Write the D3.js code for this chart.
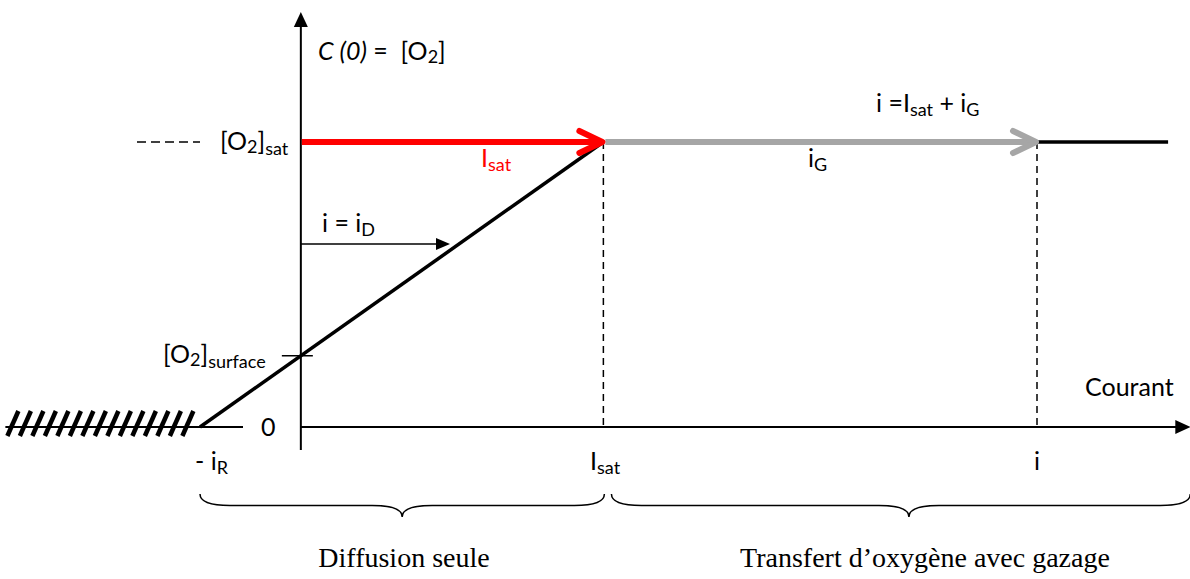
<!DOCTYPE html>
<html lang="fr">
  <head>
    <meta charset="UTF-8" />
    <title>C(0) en fonction du courant</title>
    <style>
      body { margin: 0; background: #fff; }
      svg text { font-family: Lato, "Open Sans", sans-serif; font-size: 25px; fill: #000; white-space: pre; }
      svg text.serif { font-family: "Liberation Serif", "DejaVu Serif", serif; font-size: 28px; }
    </style>
  </head>
  <body>
    <div id="chart"></div>
    <script src="https://cdn.jsdelivr.net/npm/d3@7"></script>
    <script>
      // courant : -iR, 0, Isat, i
      const currentKeys = [-1, 0, 3, 7.3];
      // concentration : 0, [O2]surface, [O2]sat
      const concKeys = [0, 0.25, 1];
      // profil C(0) = f(courant)
      const profileRise = [[-1, 0], [3, 1]];
      const profileFlat = [[7.3, 1], [8.6, 1]];
      const hatchRange = [-2.93, -1];
      const xEnd = 8.82;
      const yTop = 1.456;
      const braces = [
        { from: -1, to: 3.01, label: "Diffusion seule" },
        { from: 3.08, to: 8.82, tip: 6.03, label: "Transfert d\u2019oxygène avec gazage" }
      ];

      const width = 1190, height = 579;
      const x = d3.scaleLinear().domain([-1, 7.3]).range([200, 1037]);
      const y = d3.scaleLinear().domain([0, 1]).range([427, 142]);
      const line = d3.line().x(d => x(d[0])).y(d => y(d[1]));

      const svg = d3.select("#chart").append("svg")
        .attr("width", width).attr("height", height);

      // texte avec indices
      function label(xp, yp, parts, opts = {}) {
        const t = svg.append("text").attr("x", xp).attr("y", yp)
          .attr("text-anchor", opts.anchor || "start");
        if (opts.fill) t.style("fill", opts.fill);
        parts.forEach(p => {
          const s = t.append("tspan").text(p.t);
          if (p.sub) s.attr("dy", p.dy != null ? p.dy : 5).style("font-size", (p.size || 18) + "px");
          else if (p.up) s.attr("dy", -p.up);
          if (p.italic) s.style("font-style", "italic");
        });
        return t;
      }

      // hachures à gauche de -iR
      const hatch = svg.append("g");
      hatch.append("line")
        .attr("x1", x(hatchRange[0])).attr("x2", x(hatchRange[1]))
        .attr("y1", y(0)).attr("y2", y(0))
        .attr("stroke", "#000").attr("stroke-width", 2);
      d3.range(x(hatchRange[0]) + 2, x(hatchRange[1]) - 8, 12.5).forEach(hx => {
        hatch.append("line")
          .attr("x1", hx).attr("y1", y(0) + 9)
          .attr("x2", hx + 11).attr("y2", y(0) - 16)
          .attr("stroke", "#000").attr("stroke-width", 4.5);
      });

      // axe des abscisses (courant)
      svg.append("line")
        .attr("x1", x(-1)).attr("x2", x(-1) + 43)
        .attr("y1", y(0)).attr("y2", y(0))
        .attr("stroke", "#000").attr("stroke-width", 2);
      svg.append("line")
        .attr("x1", x(0)).attr("x2", x(xEnd) - 12)
        .attr("y1", y(0)).attr("y2", y(0))
        .attr("stroke", "#000").attr("stroke-width", 2);
      svg.append("path")
        .attr("d", `M${x(xEnd)},${y(0)} L${x(xEnd) - 15},${y(0) - 7} L${x(xEnd) - 15},${y(0) + 7} Z`)
        .attr("fill", "#000");

      // axe des ordonnées
      svg.append("line")
        .attr("x1", x(0)).attr("x2", x(0))
        .attr("y1", y(0) + 23).attr("y2", y(yTop) + 12)
        .attr("stroke", "#000").attr("stroke-width", 2);
      svg.append("path")
        .attr("d", `M${x(0)},${y(yTop)} L${x(0) - 7},${y(yTop) + 15} L${x(0) + 7},${y(yTop) + 15} Z`)
        .attr("fill", "#000");

      // pointillés verticaux à Isat et i
      [currentKeys[2], currentKeys[3]].forEach(c => {
        svg.append("line")
          .attr("x1", x(c)).attr("x2", x(c))
          .attr("y1", y(1)).attr("y2", y(0))
          .attr("stroke", "#000").attr("stroke-width", 1.5)
          .attr("stroke-dasharray", "7,5");
      });
      // pointillé horizontal devant [O2]sat
      svg.append("line")
        .attr("x1", 137).attr("x2", 200)
        .attr("y1", y(1)).attr("y2", y(1))
        .attr("stroke", "#000").attr("stroke-width", 1.5)
        .attr("stroke-dasharray", "9,5");

      // repère [O2]surface
      svg.append("line")
        .attr("x1", x(0) - 19).attr("x2", x(0) + 12)
        .attr("y1", y(concKeys[1])).attr("y2", y(concKeys[1]))
        .attr("stroke", "#000").attr("stroke-width", 1.5);

      // profil
      svg.append("path").datum(profileRise).attr("d", line)
        .attr("fill", "none").attr("stroke", "#000").attr("stroke-width", 3.5);
      svg.append("path").datum(profileFlat).attr("d", line)
        .attr("fill", "none").attr("stroke", "#000").attr("stroke-width", 3.5);

      // flèches Isat (rouge) et iG (gris)
      function thickArrow(c0, c1, color) {
        svg.append("line")
          .attr("x1", x(c0)).attr("x2", x(c1) - 3)
          .attr("y1", y(1)).attr("y2", y(1))
          .attr("stroke", color).attr("stroke-width", 6);
        svg.append("path")
          .attr("d", `M${x(c1) - 24},${y(1) - 11} L${x(c1) - 1},${y(1)} L${x(c1) - 24},${y(1) + 11}`)
          .attr("fill", "none").attr("stroke", color).attr("stroke-width", 6)
          .attr("stroke-linecap", "round").attr("stroke-linejoin", "round");
      }
      thickArrow(currentKeys[2] + 0.02, currentKeys[3], "#a6a6a6");
      thickArrow(currentKeys[1] + 0.01, currentKeys[2], "#ff0000");

      // flèche i = iD
      const yD = 244;
      svg.append("line")
        .attr("x1", x(0)).attr("x2", 440)
        .attr("y1", yD).attr("y2", yD)
        .attr("stroke", "#000").attr("stroke-width", 1.5);
      svg.append("path")
        .attr("d", `M450,${yD} L436,${yD - 6} L436,${yD + 6} Z`)
        .attr("fill", "#000");

      // accolades
      function brace(x1, x2, xm, y0, h) {
        const q = h / 2;
        return `M${x1},${y0} Q${x1},${y0 + q} ${x1 + 30},${y0 + q} L${xm - 30},${y0 + q} ` +
          `Q${xm},${y0 + q} ${xm},${y0 + h} Q${xm},${y0 + q} ${xm + 30},${y0 + q} ` +
          `L${x2 - 30},${y0 + q} Q${x2},${y0 + q} ${x2},${y0}`;
      }
      braces.forEach(b => {
        const x1 = x(b.from), x2 = x(b.to);
        const xm = b.tip != null ? x(b.tip) : (x1 + x2) / 2;
        svg.append("path")
          .attr("d", brace(x1, x2, xm, 494, 23))
          .attr("fill", "none").attr("stroke", "#000").attr("stroke-width", 1.5);
      });
      svg.append("text").attr("class", "serif")
        .attr("x", 404).attr("y", 567).attr("text-anchor", "middle")
        .text(braces[0].label);
      svg.append("text").attr("class", "serif")
        .attr("x", 925).attr("y", 567).attr("text-anchor", "middle")
        .text(braces[1].label);

      // étiquettes
      label(318, 60, [{ t: "C (0)", italic: true }, { t: " =  [O" }, { t: "2", sub: true, dy: 3 }, { t: "]", up: 3 }]);
      label(220, 150, [{ t: "[O" }, { t: "2", sub: true, dy: 3 }, { t: "]", up: 3 }, { t: "sat", sub: true, dy: 5 }]);
      label(163, 363, [{ t: "[O" }, { t: "2", sub: true, dy: 3 }, { t: "]", up: 3 }, { t: "surface", sub: true, dy: 5 }]);
      label(481, 167, [{ t: "I" }, { t: "sat", sub: true, dy: 4 }], { fill: "#ff0000" });
      label(808, 167, [{ t: "i" }, { t: "G", sub: true, dy: 4 }]);
      label(876, 112, [{ t: "i =I" }, { t: "sat", sub: true, dy: 4 }, { t: " + i", up: 4 }, { t: "G", sub: true, dy: 4 }]);
      label(322, 232, [{ t: "i = i" }, { t: "D", sub: true, dy: 4 }]);
      label(261, 436, [{ t: "0" }]);
      label(1085, 396, [{ t: "Courant" }]);
      label(195, 470, [{ t: "- i" }, { t: "R", sub: true, dy: 4 }]);
      label(590, 470, [{ t: "I" }, { t: "sat", sub: true, dy: 4 }]);
      label(x(currentKeys[3]) - 3, 470, [{ t: "i" }]);
    </script>
  </body>
</html>
